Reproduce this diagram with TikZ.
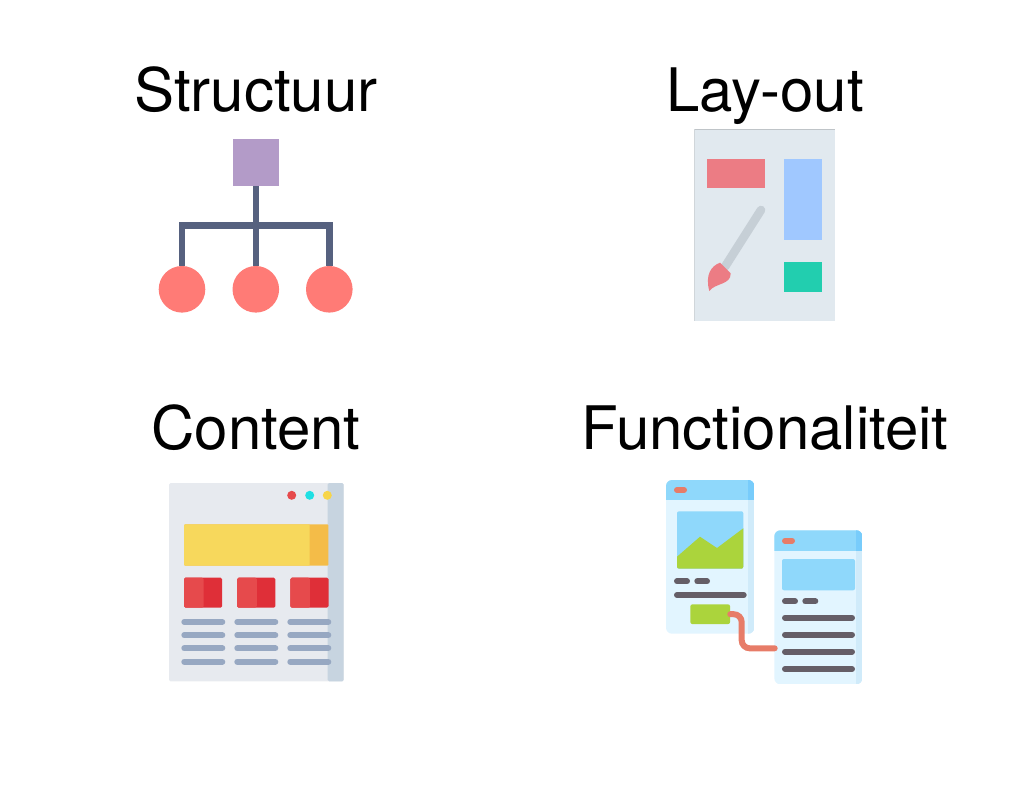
\documentclass[tikz,border=0pt]{standalone}
\usepackage{fontspec}
\setmainfont{TeX Gyre Heros}
\usetikzlibrary{calc}

\definecolor{treepurple}{HTML}{B39BC8}
\definecolor{treeline}{HTML}{56617F}
\definecolor{treered}{HTML}{FF7B76}
\definecolor{layoutbg}{HTML}{E1E9EF}
\definecolor{layoutedge}{HTML}{BFC4C8}
\definecolor{layoutside}{HTML}{D0D6DA}
\definecolor{layoutred}{HTML}{EC7C84}
\definecolor{layoutblue}{HTML}{A0C8FF}
\definecolor{layoutgreen}{HTML}{22CEAF}
\definecolor{brushgrey}{HTML}{C6CFD6}
\definecolor{pagebg}{HTML}{E7EAEF}
\definecolor{pageband}{HTML}{C7D4E0}
\definecolor{bannerlight}{HTML}{F7D85C}
\definecolor{bannerdark}{HTML}{F4BC48}
\definecolor{cardlight}{HTML}{E64A4C}
\definecolor{carddark}{HTML}{DF2F38}
\definecolor{textblue}{HTML}{97A8C2}
\definecolor{dotcyan}{HTML}{1FDFE3}
\definecolor{dotyellow}{HTML}{F7D548}
\definecolor{phonebg}{HTML}{E2F5FF}
\definecolor{phoneshade}{HTML}{D0EBFA}
\definecolor{phonehead}{HTML}{8FD8FB}
\definecolor{phoneheaddark}{HTML}{78CCFB}
\definecolor{phonered}{HTML}{E77C68}
\definecolor{phonegreen}{HTML}{ABD43C}
\definecolor{phonetext}{HTML}{655E67}

\tikzset{
    title/.style={anchor=base,inner sep=0pt,font=\fontsize{60}{72}\selectfont},
    treebox/.style={fill=treepurple,minimum size=46.6pt,inner sep=0pt},
    treeleaf/.style={circle,fill=treered,minimum size=46.6pt,inner sep=0pt},
    treelink/.style={draw=treeline,line width=6.4pt},
    bar/.style={line width=6pt,line cap=round},
    linkbox/.style={fill=phonegreen,rounded corners=2pt,inner sep=0pt,
        minimum width=39.7pt,minimum height=19.7pt},
}

% x0, y0, x1, y1, bottom of header, left of shade
\newcommand{\phonebody}[6]{
    \begin{scope}
        \clip[rounded corners=6pt] (#1,#2) rectangle (#3,#4);
        \fill[phonebg] (#1,#2) rectangle (#3,#4);
        \fill[phoneshade] (#6,#5) rectangle (#3,#4);
        \fill[phonehead] (#1,#2) rectangle (#3,#5);
        \fill[phoneheaddark] (#6,#2) rectangle (#3,#5);
    \end{scope}
}

\begin{document}
\begin{tikzpicture}[x=1pt,y=-1pt]
    \useasboundingbox (0,0) rectangle (1024,810);

    \node[title] (titleS) at (256,112) {Structuur};
    \node[title] (titleL) at (765,112) {Lay-out};
    \node[title] (titleC) at (256,449) {Content};
    \node[title] (titleF) at (765,449) {Functionaliteit};

    % tree
    \node[treeleaf] (leafa) at (182,289.3) {};
    \node[treeleaf] (leafb) at (255.8,289.3) {};
    \node[treeleaf] (leafc) at (329.3,289.3) {};
    \node[treebox] (root) at (255.8,162.4) {};
    \coordinate (fork) at (255.8,225.5);
    \draw[treelink] (root.south) -- (leafb.north);
    \draw[treelink] (leafa.north) |- (fork) -| (leafc.north);

    % palette
    \fill[layoutbg] (694.3,129.3) rectangle (835,320.7);
    \draw[layoutedge,line width=.8pt] (694.3,129.3) -- (835,129.3);
    \draw[layoutside,line width=.4pt] (694.3,129.3) -- (694.3,320.7);
    \fill[layoutred] (707.3,159) rectangle (765,188.5);
    \fill[layoutblue] (784,158.7) rectangle (822,240);
    \fill[layoutgreen] (784,262.3) rectangle (822,292);
    \draw[brushgrey,line width=8.6pt,line cap=round] (761,210) -- (725,266.7);
    \fill[layoutred] (709.3,291) .. controls (705,275) and (711,266) .. (720,262.7)
        -- (730.7,273.3) .. controls (731,285) and (715,283) .. (709.3,291) -- cycle;

    % web page
    \fill[pagebg,rounded corners=1.5pt] (169,483) rectangle (343.7,681.3);
    \fill[pageband,rounded corners=1.5pt] (327.7,483) rectangle (343.7,681.3);
    \foreach \dotx/\dotcol in {291.7/cardlight,309.7/dotcyan,327.3/dotyellow}
        \fill[\dotcol] (\dotx,495.3) circle (4.5);
    \fill[bannerdark,rounded corners=1pt] (184,524.3) rectangle (328.3,565.7);
    \fill[bannerlight,rounded corners=1pt] (309.7,524.3) -- (184,524.3) -- (184,565.7)
        -- (309.7,565.7) -- cycle;
    \foreach \i in {0,1,2}{
        \pgfmathsetmacro{\cardx}{184+\i*53.15}
        \pgfmathsetmacro{\cardmid}{\cardx+19.6}
        \fill[carddark,rounded corners=1.5pt] (\cardx,577.7) rectangle ({\cardx+38.2},607.7);
        \fill[cardlight,rounded corners=1.5pt] (\cardmid,577.7) -- (\cardx,577.7)
            -- (\cardx,607.7) -- (\cardmid,607.7) -- cycle;
        \pgfmathsetmacro{\linex}{184.3+\i*53}
        \foreach \liney in {622,635.2,648.3,661.7}
            \draw[bar,textblue] (\linex,\liney) -- ({\linex+38},\liney);
    }

    % left screen
    \phonebody{666}{480}{754.3}{633.7}{500}{747.7}
    \draw[bar,phonered] (677,490) -- (684,490);
    \fill[phonehead,rounded corners=2pt] (677,511.3) rectangle (743.3,568.7);
    \begin{scope}
        \clip[rounded corners=2pt] (677,511.3) rectangle (743.3,568.7);
        \fill[phonegreen] (677,556.7) -- (700,536.7) -- (717,548) -- (743.3,528.3)
            -- (743.3,568.7) -- (677,568.7) -- cycle;
    \end{scope}
    \draw[bar,phonetext] (677,581.3) -- (687,581.3);
    \draw[bar,phonetext] (697.3,581.3) -- (707,581.3);
    \draw[bar,phonetext] (677,595) -- (743.7,595);
    \node[linkbox] (button) at (710.2,614.2) {};

    % right screen
    \phonebody{774.3}{530.3}{862.3}{684.3}{550.7}{856}
    \draw[bar,phonered] (785,540.7) -- (792,540.7);
    \fill[phonehead,rounded corners=2pt] (782,559) rectangle (855,590.3);
    \draw[bar,phonetext] (785,601.3) -- (795,601.3);
    \draw[bar,phonetext] (805.3,601.3) -- (815.3,601.3);
    \foreach \liney in {617.7,634.7,651.7,669}
        \draw[bar,phonetext] (785,\liney) -- (852,\liney);

    % link between the screens
    \coordinate (linkend) at (774.7,648.3);
    \coordinate (linkbend) at (741.7,614.2);
    \draw[phonered,line width=6pt,line cap=round,rounded corners=8pt] (button.east) -- (linkbend)
        -- (linkbend |- linkend) -- (linkend);
\end{tikzpicture}
\end{document}
